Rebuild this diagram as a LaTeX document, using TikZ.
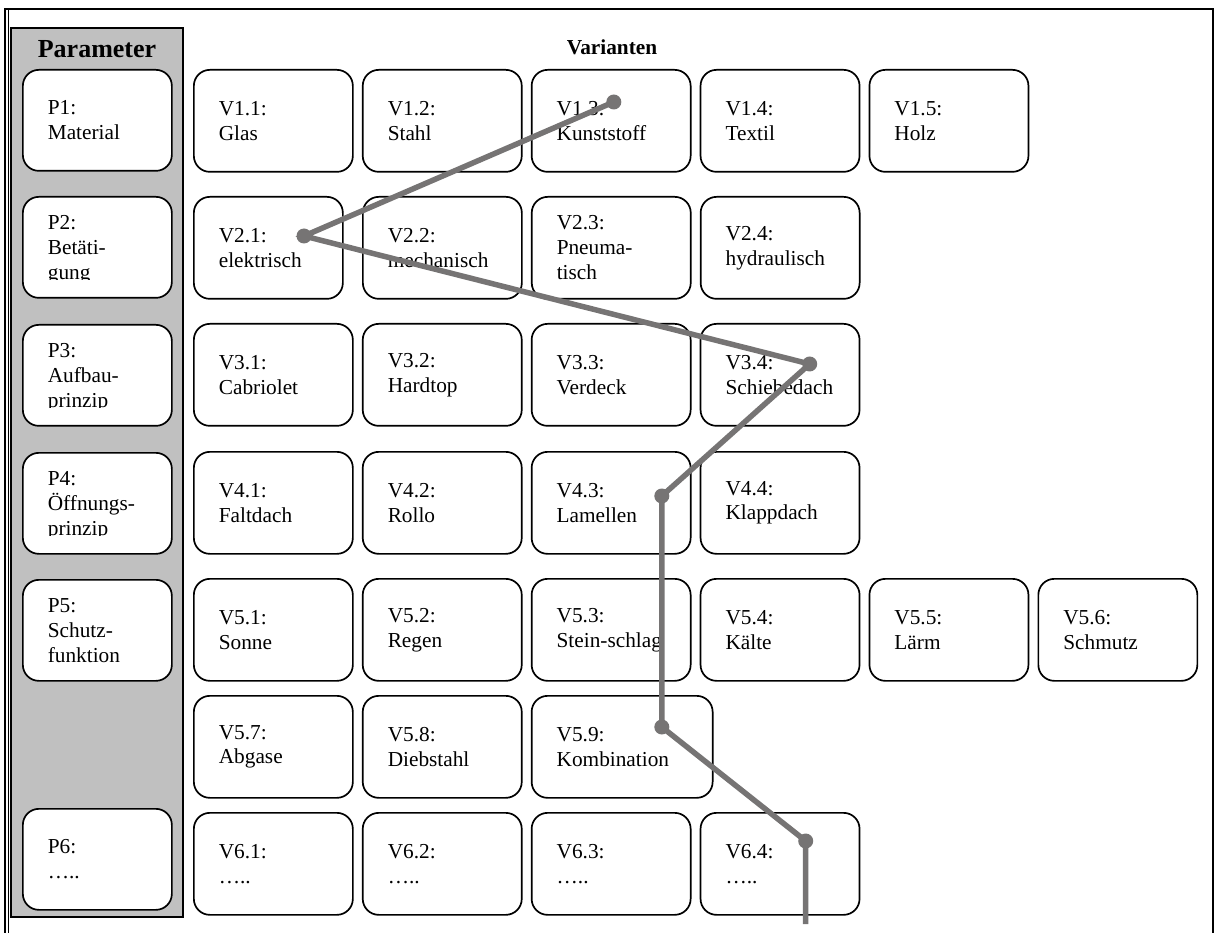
\documentclass[tikz,border=0pt]{standalone}
\usepackage{fontspec}
\setmainfont{Liberation Serif}
\usepackage{trimclip}
\usepackage{tikz}
\usetikzlibrary{positioning}

\definecolor{columngray}{RGB}{192,192,192}
\definecolor{routegray}{RGB}{118,116,116}

\begin{document}
\begin{tikzpicture}[x=1pt, y=-1pt, node distance=8.2pt,
  every node/.style={font=\fontsize{21.3}{24.8}\selectfont},
  variant/.style={draw, line width=1.7pt, rounded corners=16pt, fill=white, align=left,
    inner xsep=25pt, inner ysep=0pt, minimum height=102pt, text width=109pt, anchor=north west},
  parambox/.style={variant, text width=99pt, minimum height=101pt},
  heading/.style={font=\fontsize{21.3}{24.8}\selectfont\bfseries},
  route/.style={draw=routegray, line width=5.5pt},
  knot/.style={fill=routegray}]
\useasboundingbox (0,0) rectangle (1219,933);

% frame and parameter column
\draw[line width=1.5pt] (5,933) -- (5,9) -- (1213,9) -- (1213,933);
\draw[line width=0.7pt] (8.5,933) -- (8.5,10);
\draw[fill=columngray, line width=1.5pt] (11,28) rectangle (183,917);
\node[heading, font=\fontsize{26}{30}\selectfont\bfseries] (partitle) at (97,49) {Parameter};
\node[heading] (vartitle) at (612,47) {Varianten};

% parameters
\node[parambox] (p1) at (22,69) {P1:\\Material};
\node[parambox] (p2) at (22,196) {P2:\\Betäti-\\\clipbox{0pt {\depth} 0pt 0pt}{gung}};
\node[parambox] (p3) at (22,324) {P3:\\Aufbau-\\\clipbox{0pt {\depth} 0pt 0pt}{prinzip}};
\node[parambox] (p4) at (22,452) {P4:\\Öffnungs-\\\clipbox{0pt {\depth} 0pt 0pt}{prinzip}};
\node[parambox] (p5) at (22,579) {P5:\\Schutz-\\funktion};
\node[parambox] (p6) at (22,808) {P6:\\…..};

% variants
\node[variant] (v11) at (193,69) {V1.1:\\Glas};
\node[variant, right=of v11] (v12) {V1.2:\\Stahl};
\node[variant, right=of v12] (v13) {V1.3:\\Kunststoff};
\node[variant, right=of v13] (v14) {V1.4:\\Textil};
\node[variant, right=of v14] (v15) {V1.5:\\Holz};

\node[variant, text width=99pt] (v21) at (193,196) {V2.1:\\elektrisch};
\node[variant, right=18.3pt of v21] (v22) {V2.2:\\mechanisch};
\node[variant, right=of v22] (v23) {V2.3:\\Pneuma-\\tisch};
\node[variant, right=of v23] (v24) {V2.4:\\hydraulisch};

\node[variant] (v31) at (193,323) {V3.1:\\Cabriolet};
\node[variant, right=of v31] (v32) {V3.2:\\Hardtop};
\node[variant, right=of v32] (v33) {V3.3:\\Verdeck};
\node[variant, right=of v33] (v34) {V3.4:\\Schiebedach};

\node[variant] (v41) at (193,451) {V4.1:\\Faltdach};
\node[variant, right=of v41] (v42) {V4.2:\\Rollo};
\node[variant, right=of v42] (v43) {V4.3:\\Lamellen};
\node[variant, right=of v43] (v44) {V4.4:\\Klappdach};

\node[variant] (v51) at (193,578) {V5.1:\\Sonne};
\node[variant, right=of v51] (v52) {V5.2:\\Regen};
\node[variant, right=of v52] (v53) {V5.3:\\Stein-schlag};
\node[variant, right=of v53] (v54) {V5.4:\\Kälte};
\node[variant, right=of v54] (v55) {V5.5:\\Lärm};
\node[variant, right=of v55] (v56) {V5.6:\\Schmutz};

\node[variant] (v57) at (193,695) {V5.7:\\Abgase};
\node[variant, right=of v57] (v58) {V5.8:\\Diebstahl};
\node[variant, right=of v58, text width=131pt] (v59) {V5.9:\\Kombination};

\node[variant] (v61) at (193,812) {V6.1:\\…..};
\node[variant, right=of v61] (v62) {V6.2:\\…..};
\node[variant, right=of v62] (v63) {V6.3:\\…..};
\node[variant, right=of v63] (v64) {V6.4:\\…..};

% chosen combination
\coordinate (k1) at ([shift={(83,33)}]v13.north west);
\coordinate (k2) at ([shift={(111,40)}]v21.north west);
\coordinate (k3) at ([shift={(110,41)}]v34.north west);
\coordinate (k4) at ([shift={(131,45)}]v43.north west);
\coordinate (k5) at ([shift={(131,32)}]v59.north west);
\coordinate (k6) at ([shift={(106,29)}]v64.north west);
\coordinate (kend) at ([yshift=-83pt]k6);
\draw[route] (k1) -- (k2) -- (k3) -- (k4) -- (k5) -- (k6) -- (kend);
\foreach \k in {k1,k2,k3,k4,k5,k6}
  \fill[knot] (\k) circle (7.5);
\end{tikzpicture}
\end{document}
